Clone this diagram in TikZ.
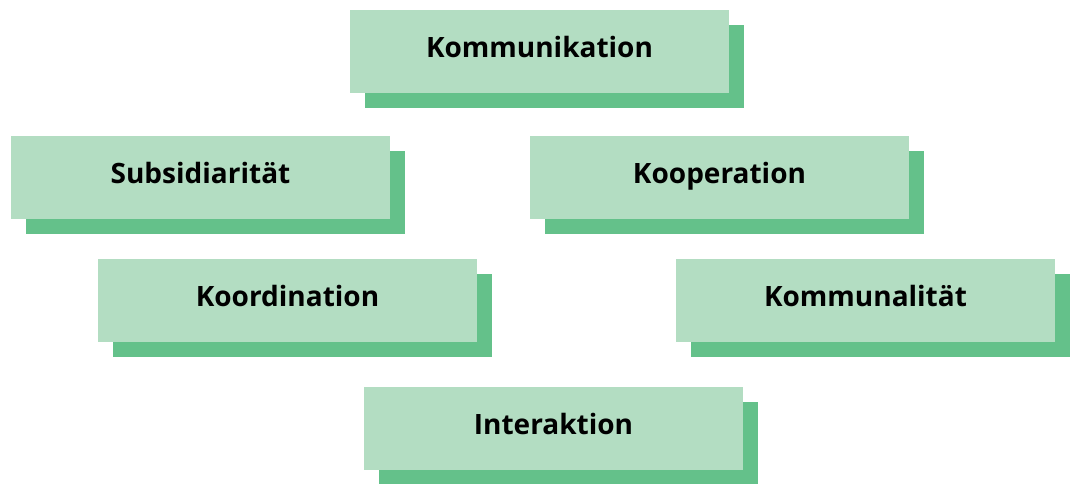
\documentclass[tikz,border=0pt]{standalone}
\usepackage{fontspec}
\setmainfont{Open Sans}
\usepackage{xcolor}
\usepackage{tikz}
\usetikzlibrary{shadows}

\definecolor{boxgreen}{RGB}{179,221,194}
\definecolor{shadegreen}{RGB}{100,193,138}

\begin{document}
\begin{tikzpicture}[x=0.5pt, y=-0.5pt,
  font=\fontsize{14}{16}\selectfont\bfseries,
  concept/.style={fill=boxgreen, minimum width=189.5pt, minimum height=41.5pt, inner sep=0pt,
    text height=10pt, text depth=4pt, align=center,
    drop shadow={shadow xshift=7.5pt, shadow yshift=-7.5pt, fill=shadegreen, opacity=1}}]
\useasboundingbox (0,0) rectangle (1074,483);
\node[concept] (komm) at (539.5,51) {Kommunikation};
\node[concept] (subs) at (200.5,177) {Subsidiarität};
\node[concept] (koop) at (719.5,177) {Kooperation};
\node[concept] (koord) at (287.5,300) {Koordination};
\node[concept] (kommu) at (865.5,300) {Kommunalität};
\node[concept] (inter) at (553.5,428) {Interaktion};
\end{tikzpicture}
\end{document}
